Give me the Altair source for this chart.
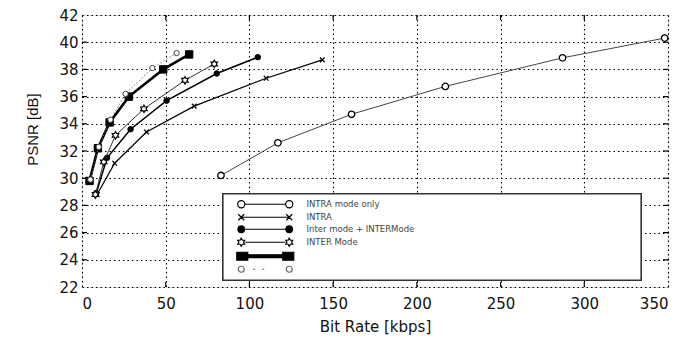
import altair as alt
import pandas as pd

# ---- data ----
series_names = ["INTRA mode only", "INTRA", "Inter mode", "INTER Mode", "S5", "S6"]

intra_only_x = [83, 117, 161, 217, 287, 348]
intra_only_y = [30.2, 32.6, 34.7, 36.75, 38.85, 40.3]
intra_x = [9, 19.5, 38.5, 67, 110, 143.5]
intra_y = [28.8, 31.1, 33.4, 35.3, 37.35, 38.7]
inter_x = [8.5, 15, 29, 50.5, 80.5, 105]
inter_y = [28.9, 31.5, 33.6, 35.7, 37.7, 38.9]
inter_m_x = [8, 13, 20, 37, 61.5, 79]
inter_m_y = [28.8, 31.2, 33.15, 35.1, 37.2, 38.4]
square_x = [4.5, 9.5, 16.5, 28, 48.5, 64]
square_y = [29.8, 32.2, 34.1, 36.0, 38.0, 39.1]
open_x = [5, 10, 17, 26, 42, 56.5]
open_y = [29.9, 32.3, 34.3, 36.2, 38.1, 39.2]

x_ticks = [0, 50, 100, 150, 200, 250, 300, 350]
y_ticks = [22, 24, 26, 28, 30, 32, 34, 36, 38, 40, 42]

xs = [intra_only_x, intra_x, inter_x, inter_m_x, square_x, open_x]
ys = [intra_only_y, intra_y, inter_y, inter_m_y, square_y, open_y]
rows = []
for name, sx, sy in zip(series_names, xs, ys):
    for a, b in zip(sx, sy):
        rows.append({"series": name, "rate": a, "psnr": b})
df = pd.DataFrame(rows)

W, H = 586, 272
FONT = "DejaVu Sans"

xscale = alt.Scale(domain=[0, 350], nice=False)
yscale = alt.Scale(domain=[22, 42], nice=False)

x_axis = alt.Axis(
    values=x_ticks, grid=True, gridDash=[1.5, 3], gridColor="black", gridWidth=1.1, gridOpacity=1,
    ticks=False, domain=False, labelFont=FONT, labelFontSize=15, labelColor="#111",
    labelOverlap=False, labelPadding=9, title="Bit Rate [kbps]", titleFont=FONT, titleFontSize=15,
    titleFontWeight="normal", titleColor="#111", titleX=W / 2, titleY=39,
    titleBaseline="middle", titleAlign="center")
y_axis = alt.Axis(
    values=y_ticks, grid=True, gridDash=[1.5, 3], gridColor="black", gridWidth=1.1, gridOpacity=1,
    ticks=False, domain=False, labelFont=FONT, labelFontSize=15, labelColor="#111",
    labelOverlap=False, labelPadding=4, title="PSNR [dB]", titleFont="Liberation Sans", titleFontSize=15,
    titleFontWeight="normal", titleColor="#111", titleX=-50, titleY=114,
    titleAngle=270, titleBaseline="middle", titleAlign="center")
x_enc = alt.X("rate:Q", scale=xscale, axis=x_axis)
y_enc = alt.Y("psnr:Q", scale=yscale, axis=y_axis)

HEX = "M0,-1L0.29,-0.5L0.87,-0.5L0.58,0L0.87,0.5L0.29,0.5L0,1L-0.29,0.5L-0.87,0.5L-0.58,0L-0.87,-0.5L-0.29,-0.5Z"
XMARK = "M-1,-1L1,1M-1,1L1,-1"

styles = {
    "INTRA mode only": dict(lc="#444", lw=1.0, dash=None, shape="circle", size=42, fill="white", stroke="black", sw=1.3),
    "INTRA": dict(lc="black", lw=1.2, dash=None, shape=XMARK, size=22, fill="black", stroke="black", sw=1.3),
    "Inter mode": dict(lc="black", lw=1.5, dash=None, shape="circle", size=30, fill="black", stroke="black", sw=1),
    "INTER Mode": dict(lc="#333", lw=1.0, dash=None, shape=HEX, size=55, fill="white", stroke="black", sw=1.2),
    "S5": dict(lc="black", lw=2.6, dash=None, shape="square", size=55, fill="black", stroke="black", sw=1),
    "S6": dict(lc="#666", lw=0.9, dash=[1.5, 2], shape="circle", size=28, fill="white", stroke="#444", sw=1),
}

base = alt.Chart(df)
layers = []
# legend frame
layers.append(base.mark_rect(fill="white", stroke="#333", strokeWidth=1.2).encode(
    x=alt.value(141), x2=alt.value(559), y=alt.value(179), y2=alt.value(265)))

for name in series_names:
    s = styles[name]
    sub = base.transform_filter(alt.datum.series == name)
    lk = dict(color=s["lc"], strokeWidth=s["lw"])
    if s["dash"]:
        lk["strokeDash"] = s["dash"]
    layers.append(sub.mark_line(**lk).encode(x=x_enc, y=y_enc, order="rate:Q"))
    layers.append(sub.mark_point(shape=s["shape"], size=s["size"], fill=s["fill"], stroke=s["stroke"],
                                 strokeWidth=s["sw"], opacity=1, filled=True).encode(x=x_enc, y=y_enc))

# inward ticks on the frame
tick_df_x = pd.DataFrame({"t": x_ticks[1:-1]})
tick_df_y = pd.DataFrame({"t": y_ticks[1:-1]})
tx = alt.X("t:Q", scale=xscale, axis=x_axis)
ty = alt.Y("t:Q", scale=yscale, axis=y_axis)
layers.append(alt.Chart(tick_df_x).mark_rule(color="black", strokeWidth=1.2).encode(
    x=tx, y=alt.value(H), y2=alt.value(H - 5)))
layers.append(alt.Chart(tick_df_x).mark_rule(color="black", strokeWidth=1.2).encode(
    x=tx, y=alt.value(0), y2=alt.value(5)))
layers.append(alt.Chart(tick_df_y).mark_rule(color="black", strokeWidth=1.2).encode(
    y=ty, x=alt.value(0), x2=alt.value(5)))
layers.append(alt.Chart(tick_df_y).mark_rule(color="black", strokeWidth=1.2).encode(
    y=ty, x=alt.value(W), x2=alt.value(W - 5)))

# legend (symbols drawn as line samples with end markers)
def circ(cx, r):
    return f"M{cx - r},0a{r},{r} 0 1,0 {2 * r},0a{r},{r} 0 1,0 {-2 * r},0Z"

def hexa(cx, r):
    pts = [(0, -1), (0.29, -0.5), (0.87, -0.5), (0.58, 0), (0.87, 0.5), (0.29, 0.5), (0, 1),
           (-0.29, 0.5), (-0.87, 0.5), (-0.58, 0), (-0.87, -0.5), (-0.29, -0.5)]
    return "M" + "L".join(f"{cx + px * r:.2f},{py * r:.2f}" for px, py in pts) + "Z"

def sq(cx, w, h):
    return f"M{cx - w / 2},{-h / 2}L{cx + w / 2},{-h / 2}L{cx + w / 2},{h / 2}L{cx - w / 2},{h / 2}Z"

def xm(cx, r):
    return f"M{cx - r},{-r}L{cx + r},{r}M{cx - r},{r}L{cx + r},{-r}"

paths = [
    circ(-24, 3.6) + "M-20.4,0L20.4,0" + circ(24, 3.6),
    xm(-24, 3) + "M-24,0L24,0" + xm(24, 3),
    circ(-24, 3.3) + "M-24,0L24,0" + circ(24, 3.3),
    hexa(-24, 4) + "M-20,0L20,0" + hexa(24, 4),
    sq(-23, 11, 8) + "M-18,-1.4L18,-1.4L18,1.4L-18,1.4Z" + sq(23, 11, 8),
    circ(-24, 3) + "M-12,0L-10,0M-3,0L-1,0" + circ(24, 3),
]
fills = ["white", "black", "black", "white", "black", "white"]
strokes = ["black", "black", "black", "black", "black", "#666"]

leg = alt.Legend(orient="none", legendX=179, legendY=185, title=None, padding=0,
                 symbolSize=4, symbolStrokeWidth=1.2, symbolOpacity=1,
                 labelFont=FONT, labelFontSize=8.5, labelColor="#444", labelOffset=37,
                 rowPadding=0, labelLimit=300,
                 labelExpr="datum.label == 'S5' || datum.label == 'S6' ? '' : (datum.label == 'Inter mode' ? 'Inter mode  +  INTERMode' : datum.label)")

layers.append(base.transform_filter("false").mark_point(size=4, opacity=1).encode(
    x=x_enc, y=y_enc,
    shape=alt.Shape("series:N", scale=alt.Scale(domain=series_names, range=paths), legend=leg),
    fill=alt.Fill("series:N", scale=alt.Scale(domain=series_names, range=fills), legend=leg),
    stroke=alt.Stroke("series:N", scale=alt.Scale(domain=series_names, range=strokes), legend=leg),
))

chart = alt.layer(*layers).properties(
    width=W, height=H, autosize="none",
    padding={"left": 82, "top": 15, "right": 694 - 82 - W, "bottom": 338 - 15 - H},
).configure_view(stroke="black", strokeWidth=2).configure(background="white")

chart.save("out.html", embed_options={"renderer": "svg", "actions": False})
